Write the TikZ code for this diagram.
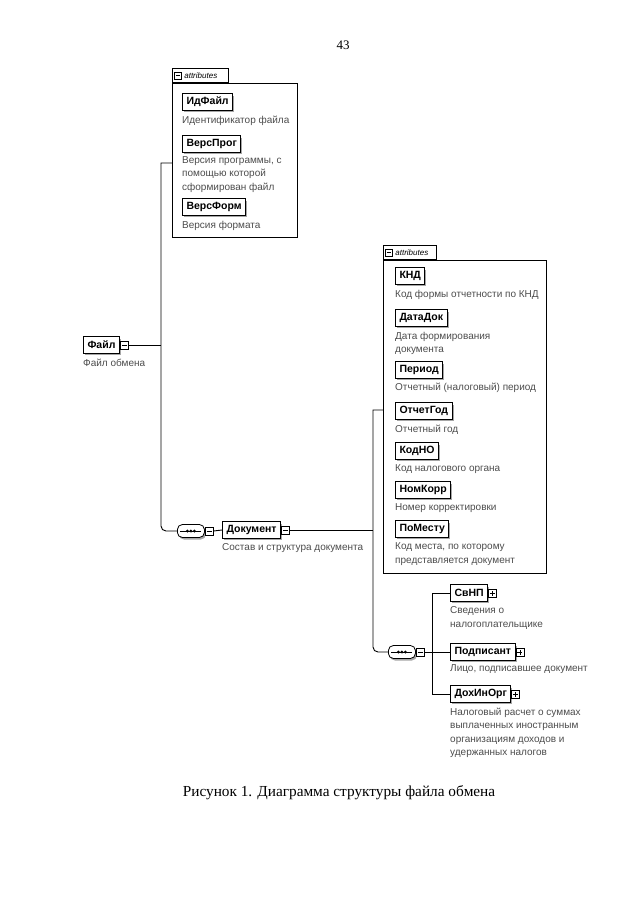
\documentclass[tikz,border=0pt]{standalone}
\usepackage{fontspec}
\setmainfont{Liberation Serif}
\setsansfont{Liberation Sans}
\usetikzlibrary{shadows}

\tikzset{
	elem/.style={draw, line width=1pt, fill=white, anchor=west, font=\sffamily\bfseries\fontsize{10.5}{12}\selectfont, inner xsep=4pt, inner ysep=0pt, minimum height=16.5pt, drop shadow={shadow xshift=1.5pt, shadow yshift=-2pt, fill=black!35, opacity=1}},
	desc/.style={anchor=north west, inner sep=0pt, align=left, text=black!70, font=\sffamily\fontsize{10}{13.5}\selectfont},
	minusbox/.style={draw, line width=0.7pt, fill=white, inner sep=0pt, minimum size=8pt, anchor=west, path picture={\draw[line width=0.7pt] ([xshift=1.5pt]path picture bounding box.west) -- ([xshift=-1.5pt]path picture bounding box.east);}},
	plusbox/.style={draw, line width=0.7pt, fill=white, inner sep=0pt, minimum size=8pt, anchor=west, path picture={\draw[line width=0.7pt] ([xshift=1.5pt]path picture bounding box.west) -- ([xshift=-1.5pt]path picture bounding box.east); \draw[line width=0.7pt] ([yshift=1.5pt]path picture bounding box.south) -- ([yshift=-1.5pt]path picture bounding box.north);}},
	attrbox/.style={draw, anchor=north west, inner sep=0pt, line width=0.7pt},
	tab/.style={draw, line width=0.7pt, fill=white, anchor=south west, inner sep=0pt, minimum height=14pt, font=\sffamily\itshape\fontsize{8}{9}\selectfont},
	link/.style={line width=0.9pt},
	seq/.style={draw, line width=0.8pt, fill=white, rounded corners=5pt, minimum width=27pt, minimum height=13pt, inner sep=0pt, anchor=west, drop shadow={shadow xshift=1.5pt, shadow yshift=-2pt, fill=black!35, opacity=1}, path picture={\draw[line width=1pt] ([xshift=3pt]path picture bounding box.west) -- ([xshift=-3pt]path picture bounding box.east); \foreach \dx in {-3.5,0,3.5} \fill[black] ([xshift=\dx pt]path picture bounding box.center) circle (1.6pt);}}
}

\begin{document}
\begin{tikzpicture}[x=1pt,y=-1pt]
	\useasboundingbox (0,0) rectangle (640,905);
	\node[font=\fontsize{13}{15}\selectfont] (pagenum) at (343,45) {43};

	% root element
	\node[elem] (fajl) at (83,345) {Файл};
	\node[minusbox] (fajlpm) at (fajl.east) {};
	\node[desc] (fajld) at ([yshift=-5pt]fajl.south west) {Файл обмена};

	% attributes of Файл
	\node[attrbox, minimum width=125pt, minimum height=154pt] (attrA) at (172,83) {};
	\node[tab, minimum width=56pt, align=left, text width=54pt] (attrAtab) at (attrA.north west) {\hspace{11pt}attributes};
	\node[minusbox, minimum size=7pt] (attrAtabpm) at ([xshift=2pt]attrAtab.west) {};
	\node[elem] (idfajl) at (182,102) {ИдФайл};
	\node[desc] (idfajld) at ([yshift=-5pt]idfajl.south west) {Идентификатор файла};
	\node[elem] (versprog) at (182,144) {ВерсПрог};
	\node[desc] (versprogd) at ([yshift=-3.5pt]versprog.south west) {Версия программы, с\\помощью которой\\сформирован файл};
	\node[elem] (versform) at (182,207) {ВерсФорм};
	\node[desc] (versformd) at ([yshift=-5pt]versform.south west) {Версия формата};

	% Документ
	\node[seq] (seqA) at (177,531) {};
	\node[minusbox] (seqApm) at (seqA.east) {};
	\node[elem] (dok) at (222,530) {Документ};
	\node[minusbox] (dokpm) at (dok.east) {};
	\node[desc] (dokd) at ([yshift=-5pt]dok.south west) {Состав и структура документа};

	% attributes of Документ
	\node[attrbox, minimum width=163pt, minimum height=313pt] (attrB) at (383,260) {};
	\node[tab, minimum width=53pt, align=left, text width=51pt] (attrBtab) at (attrB.north west) {\hspace{11pt}attributes};
	\node[minusbox, minimum size=7pt] (attrBtabpm) at ([xshift=2pt]attrBtab.west) {};
	\node[elem] (knd) at (395,276) {КНД};
	\node[desc] (kndd) at ([yshift=-5pt]knd.south west) {Код формы отчетности по КНД};
	\node[elem] (datadok) at (395,318) {ДатаДок};
	\node[desc] (datadokd) at ([yshift=-5pt]datadok.south west) {Дата формирования\\документа};
	\node[elem] (period) at (395,370) {Период};
	\node[desc] (periodd) at ([yshift=-4pt]period.south west) {Отчетный (налоговый) период};
	\node[elem] (otchetgod) at (395,411) {ОтчетГод};
	\node[desc] (otchetgodd) at ([yshift=-5pt]otchetgod.south west) {Отчетный год};
	\node[elem] (kodno) at (395,451) {КодНО};
	\node[desc] (kodnod) at ([yshift=-5pt]kodno.south west) {Код налогового органа};
	\node[elem] (nomkorr) at (395,490) {НомКорр};
	\node[desc] (nomkorrd) at ([yshift=-5pt]nomkorr.south west) {Номер корректировки};
	\node[elem] (pomestu) at (395,529) {ПоМесту};
	\node[desc] (pomestud) at ([yshift=-5pt]pomestu.south west) {Код места, по которому\\представляется документ};

	% children of Документ
	\node[seq] (seqB) at (388,652) {};
	\node[minusbox] (seqBpm) at (seqB.east) {};
	\node[elem] (svnp) at (450,593) {СвНП};
	\node[plusbox] (svnppm) at (svnp.east) {};
	\node[desc] (svnpd) at ([yshift=-5pt]svnp.south west) {Сведения о\\налогоплательщике};
	\node[elem] (podp) at (450,652) {Подписант};
	\node[plusbox] (podppm) at (podp.east) {};
	\node[desc] (podpd) at ([yshift=-4pt]podp.south west) {Лицо, подписавшее документ};
	\node[elem] (dohin) at (450,694) {ДохИнОрг};
	\node[plusbox] (dohinpm) at (dohin.east) {};
	\node[desc] (dohind) at ([yshift=-5pt]dohin.south west) {Налоговый расчет о суммах\\выплаченных иностранным\\организациям доходов и\\удержанных налогов};

	% connectors
	\coordinate (ta) at (161,163);
	\coordinate (tb) at (161,531);
	\draw[link] (attrA.west |- ta) -- (ta) [rounded corners=5pt] -- (tb) -- (seqA.west);
	\draw[link] (fajlpm.east) -- (fajlpm.east -| ta);
	\draw[link] (seqApm.east) -- (dok.west);
	\coordinate (tc) at (373,410);
	\coordinate (td) at (373,652);
	\draw[link] (attrB.west |- tc) -- (tc) [rounded corners=5pt] -- (td) -- (seqB.west);
	\draw[link] (dokpm.east) -- (dokpm.east -| tc);
	\coordinate (te) at (432,593);
	\draw[link] (svnp.west) -- (svnp.west -| te) -- (dohin.west -| te) -- (dohin.west);
	\draw[link] (seqBpm.east) -- (podp.west);

	\node[font=\fontsize{15.3}{18}\selectfont] (caption) at (339,793) {Рисунок 1. Диаграмма структуры файла обмена};
\end{tikzpicture}
\end{document}
